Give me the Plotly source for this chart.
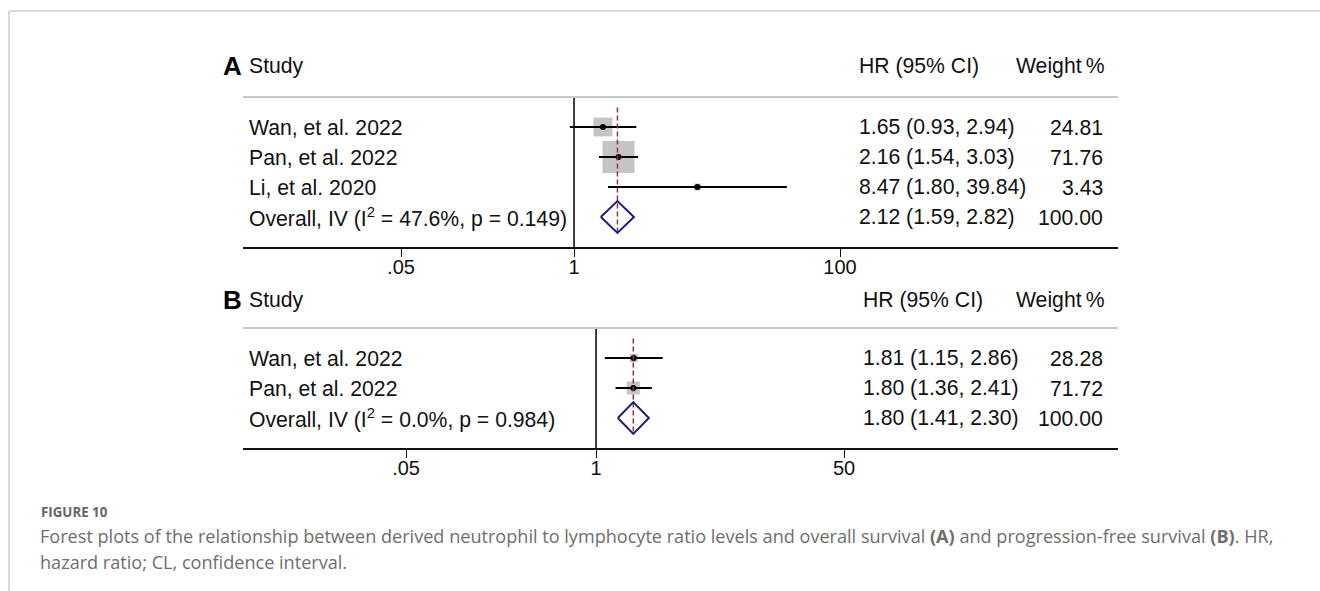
import plotly.graph_objects as go

W, H = 1320, 591

# ---------------- data ----------------
studies_A = ["Wan, et al. 2022", "Pan, et al. 2022", "Li, et al. 2020"]
hr_A = [1.65, 2.16, 8.47]
lo_A = [0.93, 1.54, 1.80]
hi_A = [2.94, 3.03, 39.84]
wt_A = [24.81, 71.76, 3.43]
overall_A = [2.12, 1.59, 2.82]
overall_label_A = "Overall, IV (I<sup>2</sup> = 47.6%, p = 0.149)"
ticks_A = [0.05, 1, 100]
ticktext_A = [".05", "1", "100"]

studies_B = ["Wan, et al. 2022", "Pan, et al. 2022"]
hr_B = [1.81, 1.80]
lo_B = [1.15, 1.36]
hi_B = [2.86, 2.41]
wt_B = [28.28, 71.72]
overall_B = [1.80, 1.41, 2.30]
overall_label_B = "Overall, IV (I<sup>2</sup> = 0.0%, p = 0.984)"
ticks_B = [0.05, 1, 50]
ticktext_B = [".05", "1", "50"]

# ---------------- helpers ----------------
def px(x):
    return x / W

def py(y):
    return 1 - y / H

FONT = "Liberation Sans, Arial, Helvetica, sans-serif"
TXT = "#111111"
SQ = "#ababab"
NAVY = "#1c1f78"
RED = "#a0303a"
FS = 21.2

fig = go.Figure()
annotations = []
shapes = []


def panel(letter, studies, hr, lo, hi, wt, overall, overall_label, xa, ya,
          sq_k, head_y, hr_x):
    xref = "x" if xa == "xaxis" else "x2"
    yref = "y" if ya == "yaxis" else "y2"
    n = len(studies)
    rows = list(range(1, n + 1))
    orow = n + 1
    dh = 0.53

    # squares
    fig.add_trace(go.Scatter(
        x=hr, y=rows, mode="markers", xaxis=xref, yaxis=yref,
        marker=dict(symbol="square", color=SQ, size=[sq_k * w ** 0.5 for w in wt],
                    line=dict(width=0)),
        hoverinfo="skip", showlegend=False))
    # CI lines
    cx, cy = [], []
    for r, l, h in zip(rows, lo, hi):
        cx += [l, h, None]
        cy += [r, r, None]
    fig.add_trace(go.Scatter(
        x=cx, y=cy, mode="lines", xaxis=xref, yaxis=yref,
        line=dict(color="#000000", width=2), hoverinfo="skip", showlegend=False))
    # point estimates
    fig.add_trace(go.Scatter(
        x=hr, y=rows, mode="markers", xaxis=xref, yaxis=yref,
        marker=dict(symbol="circle", color="#000000", size=6),
        hoverinfo="skip", showlegend=False))
    # dashed overall line
    fig.add_trace(go.Scatter(
        x=[overall[0], overall[0]], y=[0.35, orow + dh], mode="lines",
        xaxis=xref, yaxis=yref,
        line=dict(color=RED, width=1.5, dash="5px,3px"),
        hoverinfo="skip", showlegend=False))
    # diamond
    fig.add_trace(go.Scatter(
        x=[overall[1], overall[0], overall[2], overall[0], overall[1]],
        y=[orow, orow - dh, orow, orow + dh, orow], mode="lines",
        xaxis=xref, yaxis=yref,
        line=dict(color=NAVY, width=2), hoverinfo="skip", showlegend=False))

    # null line at 1
    shapes.append(dict(type="line", xref=xref, yref=f"{yref} domain",
                       x0=1, x1=1, y0=0, y1=1,
                       line=dict(color="#000000", width=1.5), layer="below"))
    # header gray line
    shapes.append(dict(type="line", xref="paper", yref=f"{yref} domain",
                       x0=px(243), x1=px(1118), y0=1, y1=1,
                       line=dict(color="#c8c8c8", width=2)))

    # headers
    annotations.append(dict(text=f"<b>{letter}</b>", x=px(221), y=py(head_y),
                            xref="paper", yref="paper", xanchor="left", yanchor="middle",
                            showarrow=False, font=dict(family=FONT, size=26, color="#000")))
    annotations.append(dict(text="Study", x=px(247), y=py(head_y),
                            xref="paper", yref="paper", xanchor="left", yanchor="middle",
                            showarrow=False, font=dict(family=FONT, size=FS, color=TXT)))
    annotations.append(dict(text="HR (95% CI)", x=px(hr_x), y=py(head_y),
                            xref="paper", yref="paper", xanchor="left", yanchor="middle",
                            showarrow=False, font=dict(family=FONT, size=FS, color=TXT)))
    annotations.append(dict(text="Weight\u2009%", x=px(1107), y=py(head_y),
                            xref="paper", yref="paper", xanchor="right", yanchor="middle",
                            showarrow=False, font=dict(family=FONT, size=FS, color=TXT)))

    labels = studies + [overall_label]
    hrs = [f"{a:.2f} ({b:.2f}, {c:.2f})" for a, b, c in zip(hr, lo, hi)]
    hrs.append(f"{overall[0]:.2f} ({overall[1]:.2f}, {overall[2]:.2f})")
    wts = [f"{w:.2f}" for w in wt] + [f"{sum(wt):.2f}"]
    for i, (lab, h, w) in enumerate(zip(labels, hrs, wts)):
        r = i + 1
        annotations.append(dict(text=lab, x=px(247), y=r, xref="paper", yref=yref,
                                xanchor="left", yanchor="middle", showarrow=False,
                                font=dict(family=FONT, size=FS, color=TXT)))
        annotations.append(dict(text=h, x=px(hr_x), y=r, xref="paper", yref=yref,
                                xanchor="left", yanchor="middle", showarrow=False,
                                font=dict(family=FONT, size=FS, color=TXT)))
        annotations.append(dict(text=w, x=px(1105), y=r, xref="paper", yref=yref,
                                xanchor="right", yanchor="middle", showarrow=False,
                                font=dict(family=FONT, size=FS, color=TXT)))


panel("A", studies_A, hr_A, lo_A, hi_A, wt_A, overall_A, overall_label_A,
      "xaxis", "yaxis", 3.78, 66, 857)
panel("B", studies_B, hr_B, lo_B, hi_B, wt_B, overall_B, overall_label_B,
      "xaxis2", "yaxis2", 1.55, 300, 861)

axis_common = dict(type="log", showgrid=False, zeroline=False, showline=True,
                   linecolor="#111111", linewidth=2, ticks="outside", ticklen=8,
                   tickwidth=1, tickcolor="#111111", mirror=False,
                   ticklabelstandoff=-7,
                   tickfont=dict(family=FONT, size=20, color=TXT),
                   domain=[px(243), px(1118)], fixedrange=True)

fig.update_layout(
    width=W, height=H,
    margin=dict(l=0, r=0, t=0, b=0),
    paper_bgcolor="white", plot_bgcolor="white",
    showlegend=False,
    xaxis=dict(axis_common, range=[-2.489, 4.09], anchor="y",
               tickvals=ticks_A, ticktext=ticktext_A),
    yaxis=dict(range=[5, 0], domain=[py(247), py(97)], visible=False,
               anchor="x", fixedrange=True),
    xaxis2=dict(axis_common, range=[-2.418, 3.575], anchor="y2",
                tickvals=ticks_B, ticktext=ticktext_B),
    yaxis2=dict(range=[4, 0], domain=[py(448), py(328)], visible=False,
                anchor="x2", fixedrange=True),
)

# page frame
shapes.append(dict(type="line", xref="paper", yref="paper",
                   x0=px(9), x1=1, y0=py(11), y1=py(11),
                   line=dict(color="#cccccc", width=1.5)))
shapes.append(dict(type="line", xref="paper", yref="paper",
                   x0=px(9), x1=px(9), y0=py(11), y1=0,
                   line=dict(color="#cccccc", width=1.5)))

CAP = "Open Sans, Noto Sans, sans-serif"
annotations.append(dict(text="<b>FIGURE 10</b>", x=px(39), y=py(512),
                        xref="paper", yref="paper", xanchor="left", yanchor="middle",
                        showarrow=False, font=dict(family=CAP, size=13.3, color="#666666")))
annotations.append(dict(
    text="Forest plots of the relationship between derived neutrophil to lymphocyte ratio levels and overall survival <b>(A)</b> and progression-free survival <b>(B)</b>. HR,",
    x=px(38), y=py(536), xref="paper", yref="paper", xanchor="left", yanchor="middle",
    showarrow=False, font=dict(family=CAP, size=18.1, color="#6e6e6e")))
annotations.append(dict(
    text="hazard ratio; CL, confidence interval.",
    x=px(38), y=py(562), xref="paper", yref="paper", xanchor="left", yanchor="middle",
    showarrow=False, font=dict(family=CAP, size=18.1, color="#6e6e6e")))

fig.update_layout(annotations=annotations, shapes=shapes)
fig.write_html("out.html", config={"displayModeBar": False},
               post_script="document.body.style.margin='0px';document.body.style.overflow='hidden';")
